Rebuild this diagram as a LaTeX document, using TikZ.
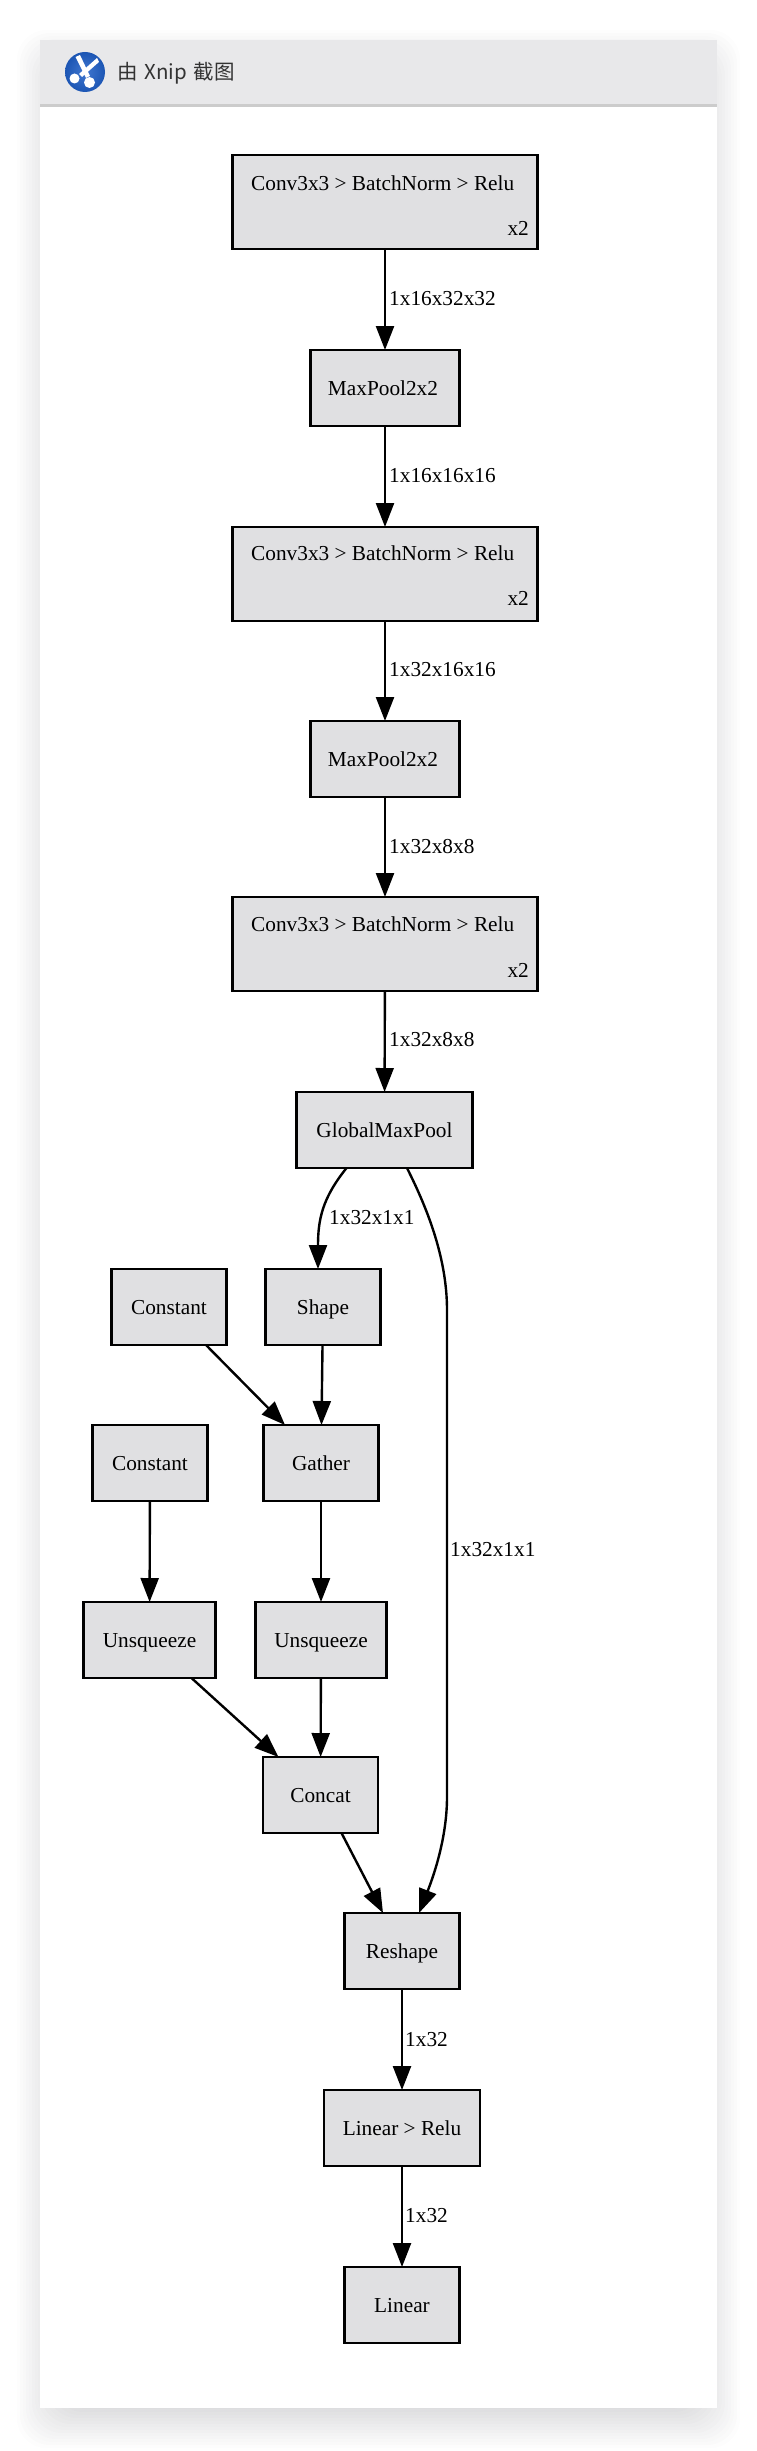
\documentclass[tikz,border=0pt]{standalone}
\usepackage{fontspec}
\setmainfont{Liberation Serif}
\newfontfamily\cjkfont{Noto Sans CJK SC}
\usetikzlibrary{arrows.meta}
\definecolor{boxgray}{HTML}{E0E0E2}
\definecolor{headgray}{HTML}{E8E8EA}
\definecolor{logoblue}{HTML}{1F5FC8}
\definecolor{shadowgray}{HTML}{30303C}
\tikzset{
    opbox/.style={draw=black, fill=boxgray, line width=2.1pt, inner sep=0pt, outer sep=0pt,
        minimum height=76pt, text height=19pt, text depth=4pt, font=\fontsize{21.3}{24}\selectfont},
    convbox/.style={opbox, minimum width=305pt, minimum height=94pt},
    boxtext/.style={inner sep=0pt, text height=18pt, text depth=4pt, font=\fontsize{21.3}{24}\selectfont},
    edgelabel/.style={boxtext, anchor=west},
    edge/.style={line width=2.4pt, -{Triangle[length=24pt,width=18pt]}}
}

\begin{document}
\begin{tikzpicture}[x=1pt,y=-1pt]
    \useasboundingbox (0,0) rectangle (756,2451);
    % window
    \foreach \d in {-20,-17,...,28}
        \fill[shadowgray, opacity=0.012, rounded corners=30pt]
            (45-\d,58-\d) rectangle (712+\d,2420+\d);
    \fill[white] (40,40) rectangle (717,2408);
    \fill[headgray] (40,40) rectangle (717,104);
    \fill[black!20] (40,104) rectangle (717,107);
    % logo
    \shade[inner color=logoblue!85!white, outer color=logoblue!90!black] (85,72) circle (20);
    \fill[white] (75.5,57) -- (80,55) -- (90,76) -- (86,78) -- cycle;
    \fill[white] (97,58) -- (99,62) -- (82,77) -- (79,74) -- cycle;
    \fill[white] (74.5,78.5) circle (5);
    \fill[white] (89.5,82.5) circle (5.5);
    \node at (117,73) (title) [anchor=west, inner sep=0pt, text=black!80, font=\fontsize{20.5}{24}\selectfont\cjkfont] {由\,\,Xnip\,\,截图};

    \node at (385,202)  (conv1)   [convbox] {};
    \node at (385,388)  (pool1)   [opbox, minimum width=149pt] {MaxPool2x2\hspace*{4pt}};
    \node at (385,574)  (conv2)   [convbox] {};
    \node at (385,759)  (pool2)   [opbox, minimum width=149pt] {MaxPool2x2\hspace*{4pt}};
    \node at (385,944)  (conv3)   [convbox] {};
    \node at (384.5,1130) (gmp)   [opbox, minimum width=176pt] {GlobalMaxPool};
    \node at (169,1307) (const1)  [opbox, minimum width=115pt] {Constant};
    \node at (323,1307) (shape)   [opbox, minimum width=115pt] {Shape};
    \node at (150,1463) (const2)  [opbox, minimum width=115pt] {Constant};
    \node at (321,1463) (gather)  [opbox, minimum width=115pt] {Gather};
    \node at (149.5,1640) (unsq1) [opbox, minimum width=132pt] {Unsqueeze};
    \node at (321,1640) (unsq2)   [opbox, minimum width=131pt] {Unsqueeze};
    \node at (320.5,1795) (concat)  [opbox, minimum width=115pt] {Concat};
    \node at (402,1951) (reshape) [opbox, minimum width=115pt] {Reshape};
    \node at (402,2128) (linrelu) [opbox, minimum width=156pt] {Linear > Relu};
    \node at (402,2305) (linear)  [opbox, minimum width=115pt] {Linear};

    % conv texts
    \node at (251,183) (conv1a) [boxtext, anchor=west] {Conv3x3 > BatchNorm > Relu};
    \node at (529,228) (conv1b) [boxtext, anchor=east] {x2};
    \node at (251,553.5) (conv2a) [boxtext, anchor=west] {Conv3x3 > BatchNorm > Relu};
    \node at (529,598.5) (conv2b) [boxtext, anchor=east] {x2};
    \node at (251,924.5) (conv3a) [boxtext, anchor=west] {Conv3x3 > BatchNorm > Relu};
    \node at (529,970) (conv3b) [boxtext, anchor=east] {x2};

    % edges
    \draw[edge] (conv1) -- (pool1);
    \draw[edge] (pool1) -- (conv2);
    \draw[edge] (conv2) -- (pool2);
    \draw[edge] (pool2) -- (conv3);
    \draw[edge] (conv3) -- (gmp);
    \draw[edge] ([xshift=-38pt]gmp.south) .. controls +(-24,30) and +(0,-50) .. ([xshift=-5pt]shape.north);
    \draw[edge] ([xshift=22.5pt]gmp.south) .. controls +(18,36) and (447,1255) .. (447,1310)
        -- (447,1797) .. controls (447,1840) and (432,1880) .. ([xshift=17pt]reshape.north);
    \draw[edge] ([xshift=37pt]const1.south) -- ([xshift=-36pt]gather.north);
    \draw[edge] (shape) -- (gather);
    \draw[edge] (const2) -- (unsq1);
    \draw[edge] (gather) -- (unsq2);
    \draw[edge] ([xshift=42pt]unsq1.south) -- ([xshift=-42pt]concat.north);
    \draw[edge] (unsq2) -- (concat);
    \draw[edge] ([xshift=21pt]concat.south) -- ([xshift=-19pt]reshape.north);
    \draw[edge] (reshape) -- (linrelu);
    \draw[edge] (linrelu) -- (linear);

    % edge labels
    \node at (389,298.7)  (lab1)  [edgelabel] {1x16x32x32};
    \node at (389,475.7)  (lab2)  [edgelabel] {1x16x16x16};
    \node at (389,669.7)  (lab3)  [edgelabel] {1x32x16x16};
    \node at (389,846.7)  (lab4)  [edgelabel] {1x32x8x8};
    \node at (389,1039.7) (lab5)  [edgelabel] {1x32x8x8};
    \node at (329,1217.7) (lab6)  [edgelabel] {1x32x1x1};
    \node at (450,1549.7) (lab7)  [edgelabel] {1x32x1x1};
    \node at (405,2039.7) (lab8)  [edgelabel] {1x32};
    \node at (405,2215.7) (lab9)  [edgelabel] {1x32};
\end{tikzpicture}
\end{document}
